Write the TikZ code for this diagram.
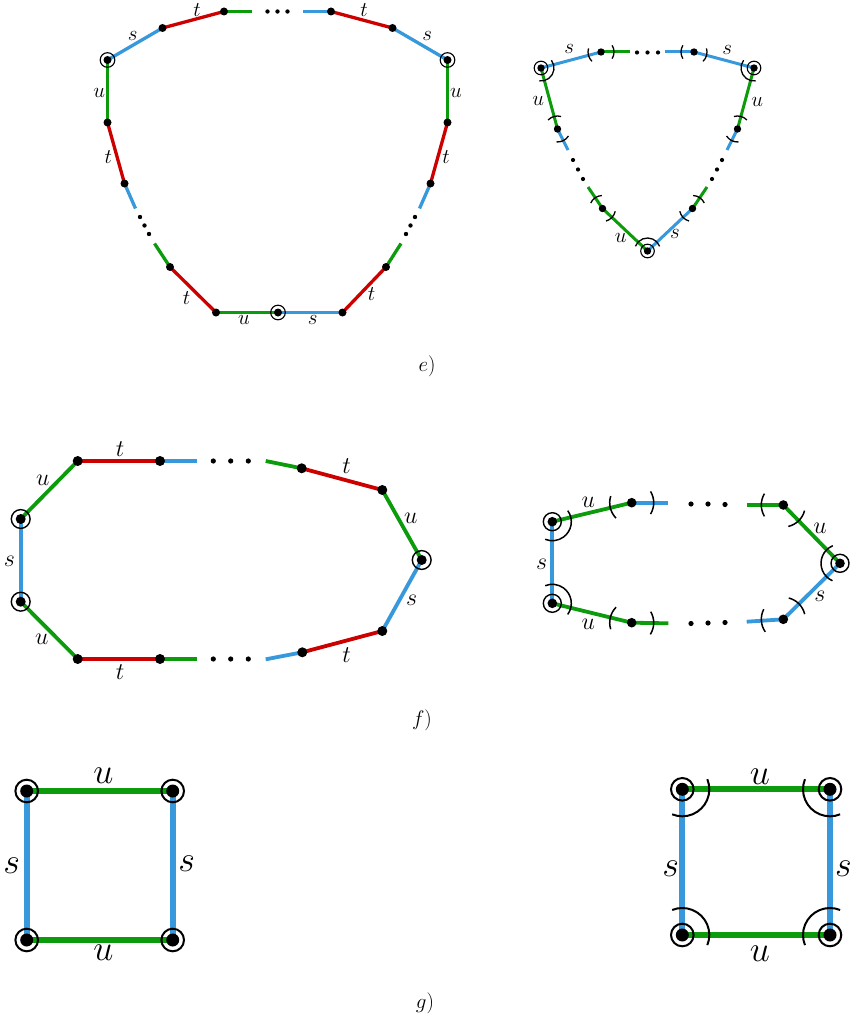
\RequirePackage{fix-cm}
\documentclass[tikz,border=0pt]{standalone}
\usetikzlibrary{calc}
\definecolor{cg}{RGB}{12,155,12}
\definecolor{cr}{RGB}{205,0,0}
\definecolor{cb}{RGB}{55,152,220}
\tikzset{
  gE/.style={draw=cg},
  rE/.style={draw=cr},
  bE/.style={draw=cb},
  arcline/.style={draw=black,line width=1.3pt},
  labE/.style={font=\fontsize{21}{22}\selectfont,inner sep=0pt},
  labF/.style={font=\fontsize{24}{26}\selectfont,inner sep=0pt},
  labG/.style={font=\fontsize{36}{38}\selectfont,inner sep=0pt},
  captxt/.style={font=\fontsize{21}{22}\selectfont,inner sep=0pt},
}
% arc around vertex #2 crossing edge toward #3, radius #1
\newcommand\edgearc[3][13]{%
  \draw[arcline] let \p1=($(#3)-(#2)$), \n1={atan2(\y1,\x1)} in
    ($(#2)+({\n1-31}:#1pt)$) arc[start angle={\n1-31}, end angle={\n1+31}, radius=#1pt];}
% arc around vertex #2 spanning the angle between #3 and #4
\newcommand\cornerarc[4][13]{%
  \draw[arcline] let \p1=($(#3)-(#2)$), \p2=($(#4)-(#2)$),
    \n1={atan2(\y1,\x1)}, \n2={atan2(\y2,\x2)},
    \n3={mod((\n2)-(\n1)+540,360)-180},
    \n4={(\n1)-sign(\n3)*22}, \n5={(\n1)+(\n3)+sign(\n3)*22} in
    ($(#2)+({\n4}:#1pt)$) arc[start angle={\n4}, end angle={\n5}, radius=#1pt];}
\newcommand\vdot[2]{\fill (#1) circle[radius=#2];}
\newcommand\vring[4]{\fill (#1) circle[radius=#2]; \draw[line width=#4] (#1) circle[radius=#3];}
\begin{document}
\begin{tikzpicture}[x=1pt,y=-1pt]
\path[use as bounding box] (0,0) rectangle (853,1019);

%%%%%%%%%%%%%%%% e) left
\begin{scope}[line width=3.3pt]
\coordinate (A1) at (107.5,60);
\coordinate (A2) at (162.5,28);
\coordinate (A3) at (224,11.5);
\coordinate (A3e) at (252,11.5);
\coordinate (A4s) at (303,11.5);
\coordinate (A4) at (331,11.5);
\coordinate (A5) at (392.5,28);
\coordinate (A6) at (447.5,60);
\coordinate (A7) at (447.5,122.5);
\coordinate (A8) at (430.5,183.5);
\coordinate (A8e) at (419.5,208.5);
\coordinate (A9s) at (401,243.5);
\coordinate (A9) at (386,267);
\coordinate (A10) at (342.5,312.5);
\coordinate (A11) at (278,312.5);
\coordinate (A12) at (216,312.5);
\coordinate (A13) at (170,267);
\coordinate (A13e) at (154.5,243.5);
\coordinate (A14s) at (135.5,208.5);
\coordinate (A14) at (124.5,183.5);
\coordinate (A15) at (107.5,122.5);
\draw[bE] (A1) -- (A2);
\draw[rE] (A2) -- (A3);
\draw[gE] (A3) -- (A3e);
\draw[bE] (A4s) -- (A4);
\draw[rE] (A4) -- (A5);
\draw[bE] (A5) -- (A6);
\draw[gE] (A6) -- (A7);
\draw[rE] (A7) -- (A8);
\draw[bE] (A8) -- (A8e);
\draw[gE] (A9s) -- (A9);
\draw[rE] (A9) -- (A10);
\draw[bE] (A10) -- (A11);
\draw[gE] (A11) -- (A12);
\draw[rE] (A12) -- (A13);
\draw[gE] (A13) -- (A13e);
\draw[bE] (A14s) -- (A14);
\draw[rE] (A14) -- (A15);
\draw[gE] (A15) -- (A1);
\end{scope}
\foreach \v in {A2,A3,A4,A5,A7,A8,A9,A10,A12,A13,A14,A15} {\vdot{\v}{4}}
\foreach \v in {A1,A6,A11} {\vring{\v}{4}{7.3}{1.1pt}}
\foreach \p in {(267.5,11.5),(277.5,11.5),(287.5,11.5),(415,217),(410.5,225.5),(406,234),(140,217),(144.5,225.5),(149,234)} {\fill \p circle[radius=2.2];}
\node[labE] (le1) at (132.7,36) {$s$};
\node[labE] (le2) at (197,10) {$t$};
\node[labE] (le3) at (364,10) {$t$};
\node[labE] (le4) at (427.3,36) {$s$};
\node[labE] (le5) at (456,93) {$u$};
\node[labE] (le6) at (446,157) {$t$};
\node[labE] (le7) at (371.7,294.3) {$t$};
\node[labE] (le8) at (312.7,320) {$s$};
\node[labE] (le9) at (244,320) {$u$};
\node[labE] (le10) at (186.7,298.3) {$t$};
\node[labE] (le11) at (108.3,156.7) {$t$};
\node[labE] (le12) at (99.3,93.3) {$u$};

%%%%%%%%%%%%%%%% e) right
\begin{scope}[line width=3pt]
\coordinate (T1) at (541,68);
\coordinate (T2) at (601,52);
\coordinate (T2e) at (630,52);
\coordinate (T3s) at (665,52);
\coordinate (T3) at (694,52);
\coordinate (T4) at (754,68);
\coordinate (T5) at (737.5,129);
\coordinate (T5e) at (727,150);
\coordinate (T6s) at (707,187);
\coordinate (T6) at (692.5,208.5);
\coordinate (T7) at (647.5,251);
\coordinate (T8) at (602.5,208.5);
\coordinate (T8s) at (588,187);
\coordinate (T9e) at (568,150);
\coordinate (T9) at (557.5,129);
\draw[bE] (T1) -- (T2);
\draw[gE] (T2) -- (T2e);
\draw[bE] (T3s) -- (T3);
\draw[bE] (T3) -- (T4);
\draw[gE] (T4) -- (T5);
\draw[bE] (T5) -- (T5e);
\draw[gE] (T6s) -- (T6);
\draw[bE] (T6) -- (T7);
\draw[gE] (T7) -- (T8);
\draw[gE] (T8) -- (T8s);
\draw[bE] (T9e) -- (T9);
\draw[gE] (T9) -- (T1);
\end{scope}
\foreach \v in {T2,T3,T5,T6,T8,T9} {\vdot{\v}{3.7}}
\foreach \v in {T1,T4,T7} {\vring{\v}{3.7}{6.8}{1.1pt}}
\foreach \p in {(637,52.5),(647.5,52.5),(658,52.5),(722,160),(717,169.5),(712,179),(573,160),(578,169.5),(583,179)} {\fill \p circle[radius=2.1];}
\edgearc{T2}{T1}\edgearc{T2}{T2e}
\edgearc{T3}{T3s}\edgearc{T3}{T4}
\edgearc{T5}{T4}\edgearc{T5}{T5e}
\edgearc{T6}{T6s}\edgearc{T6}{T7}
\edgearc{T8}{T7}\edgearc{T8}{T8s}
\edgearc{T9}{T9e}\edgearc{T9}{T1}
\cornerarc{T1}{T2}{T9}
\cornerarc{T4}{T3}{T5}
\cornerarc{T7}{T6}{T8}
\node[labE] (lt1) at (569.3,49) {$s$};
\node[labE] (lt2) at (727.3,50) {$s$};
\node[labE] (lt3) at (757.3,101.7) {$u$};
\node[labE] (lt4) at (675,234) {$s$};
\node[labE] (lt5) at (620.7,238.3) {$u$};
\node[labE] (lt6) at (538.3,101) {$u$};
\node[captxt] (ce) at (427,366) {$e)$};

%%%%%%%%%%%%%%%% f) left
\begin{scope}[line width=3.8pt]
\coordinate (F1) at (20.7,519);
\coordinate (F2) at (77.7,461);
\coordinate (F3) at (160,461);
\coordinate (F3e) at (197.3,461);
\coordinate (F4s) at (265.7,461);
\coordinate (F4) at (301.7,468.3);
\coordinate (F5) at (382.3,490);
\coordinate (F6) at (421.7,560);
\coordinate (F7) at (382.3,631);
\coordinate (F8) at (302.3,652.3);
\coordinate (F8e) at (265.7,659.3);
\coordinate (F9s) at (197.3,659);
\coordinate (F9) at (160,659);
\coordinate (F10) at (77.7,659);
\coordinate (F11) at (20.7,601.7);
\draw[gE] (F1) -- (F2);
\draw[rE] (F2) -- (F3);
\draw[bE] (F3) -- (F3e);
\draw[gE] (F4s) -- (F4);
\draw[rE] (F4) -- (F5);
\draw[gE] (F5) -- (F6);
\draw[bE] (F6) -- (F7);
\draw[rE] (F7) -- (F8);
\draw[bE] (F8) -- (F8e);
\draw[gE] (F9s) -- (F9);
\draw[rE] (F9) -- (F10);
\draw[gE] (F10) -- (F11);
\draw[bE] (F11) -- (F1);
\end{scope}
\foreach \v in {F2,F3,F4,F5,F7,F8,F9,F10} {\vdot{\v}{5}}
\foreach \v in {F1,F6,F11} {\vring{\v}{5}{9.4}{1.4pt}}
\foreach \p in {(213.3,461),(230.7,461),(248.3,461),(213.3,659),(230.7,659),(248.3,659)} {\fill \p circle[radius=2.6];}
\node[labF] (lf1) at (42.7,480) {$u$};
\node[labF] (lf2) at (120,449) {$t$};
\node[labF] (lf3) at (346.7,466) {$t$};
\node[labF] (lf4) at (410.7,518.3) {$u$};
\node[labF] (lf5) at (411.7,600) {$s$};
\node[labF] (lf6) at (346.7,655) {$t$};
\node[labF] (lf7) at (120,672) {$t$};
\node[labF] (lf8) at (41.7,639.3) {$u$};
\node[labF] (lf9) at (9.3,561.7) {$s$};

%%%%%%%%%%%%%%%% f) right
\begin{scope}[line width=3.8pt]
\coordinate (R1) at (552.3,521.7);
\coordinate (R2) at (631.7,502.7);
\coordinate (R2e) at (668.3,502.7);
\coordinate (R3s) at (746.7,505);
\coordinate (R3) at (783.3,505);
\coordinate (R4) at (840,563.3);
\coordinate (R5) at (783.3,619.3);
\coordinate (R5e) at (746.7,621.7);
\coordinate (R6s) at (668.3,623.3);
\coordinate (R6) at (631.7,622.7);
\coordinate (R7) at (552.3,603.3);
\draw[gE] (R1) -- (R2);
\draw[bE] (R2) -- (R2e);
\draw[gE] (R3s) -- (R3);
\draw[gE] (R3) -- (R4);
\draw[bE] (R4) -- (R5);
\draw[bE] (R5) -- (R5e);
\draw[gE] (R6s) -- (R6);
\draw[gE] (R6) -- (R7);
\draw[bE] (R7) -- (R1);
\end{scope}
\foreach \v in {R2,R3,R5,R6} {\vdot{\v}{4.8}}
\foreach \v in {R1,R4,R7} {\vring{\v}{4.8}{9}{1.4pt}}
\foreach \p in {(691,504),(708,504),(725,504.5),(691,623.5),(708,623),(725,622.5)} {\fill \p circle[radius=2.6];}
\begin{scope}[arcline/.style={draw=black,line width=1.5pt}]
\edgearc[22]{R2}{R1}\edgearc[22]{R2}{R2e}
\edgearc[22]{R3}{R3s}\edgearc[22]{R3}{R4}
\edgearc[22]{R5}{R4}\edgearc[22]{R5}{R5e}
\edgearc[22]{R6}{R6s}\edgearc[22]{R6}{R7}
\cornerarc[19]{R1}{R2}{R7}
\cornerarc[19]{R4}{R3}{R5}
\cornerarc[19]{R7}{R6}{R1}
\end{scope}
\node[labF] (lr1) at (588.3,502) {$u$};
\node[labF] (lr2) at (820,528.3) {$u$};
\node[labF] (lr3) at (820,596.7) {$s$};
\node[labF] (lr4) at (588.3,624) {$u$};
\node[labF] (lr5) at (541.7,564.3) {$s$};
\node[captxt] (cf) at (422,720) {$f)$};

%%%%%%%%%%%%%%%% g) left
\begin{scope}[line width=5.8pt]
\coordinate (G1) at (26.7,791);
\coordinate (G2) at (172.7,791);
\coordinate (G3) at (172.7,940);
\coordinate (G4) at (26.7,940);
\draw[gE] (G1) -- (G2);
\draw[bE] (G2) -- (G3);
\draw[gE] (G3) -- (G4);
\draw[bE] (G4) -- (G1);
\end{scope}
\foreach \v in {G1,G2,G3,G4} {\vring{\v}{6.5}{11.3}{2pt}}
\node[labG] (lg1) at (103.3,776) {$u$};
\node[labG] (lg2) at (103.3,953) {$u$};
\node[labG] (lg3) at (11.7,866) {$s$};
\node[labG] (lg4) at (186.7,864) {$s$};

%%%%%%%%%%%%%%%% g) right
\begin{scope}[line width=5.8pt]
\coordinate (H1) at (682.3,789.3);
\coordinate (H2) at (830,789.3);
\coordinate (H3) at (830,935);
\coordinate (H4) at (682.3,935);
\draw[gE] (H1) -- (H2);
\draw[bE] (H2) -- (H3);
\draw[gE] (H3) -- (H4);
\draw[bE] (H4) -- (H1);
\end{scope}
\foreach \v in {H1,H2,H3,H4} {\vring{\v}{6.5}{11.3}{2pt}}
\begin{scope}[arcline/.style={draw=black,line width=2pt}]
\cornerarc[27]{H1}{H2}{H4}
\cornerarc[27]{H2}{H1}{H3}
\cornerarc[27]{H3}{H2}{H4}
\cornerarc[27]{H4}{H3}{H1}
\end{scope}
\node[labG] (lh1) at (760,776.7) {$u$};
\node[labG] (lh2) at (760,953.3) {$u$};
\node[labG] (lh3) at (670.7,868.3) {$s$};
\node[labG] (lh4) at (843.3,868.3) {$s$};
\node[captxt] (cg) at (425,1003) {$g)$};
\end{tikzpicture}
\end{document}
